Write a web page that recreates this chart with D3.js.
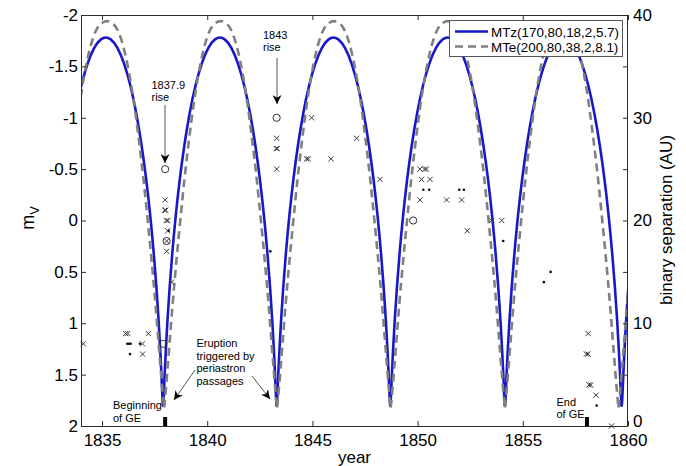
<!DOCTYPE html>
<html><head><meta charset="utf-8">
<script src="https://cdn.jsdelivr.net/npm/d3@7"></script>
<style>
body{margin:0;background:#fff;}
svg{display:block;font-family:"Liberation Sans",Arial,sans-serif;}
</style></head><body>
<svg id="chart" width="686" height="466"></svg>
<script>
// ---------------- data ----------------
const yearTicks = [1835, 1840, 1845, 1850, 1855, 1860];
const magTicks = [-2, -1.5, -1, -0.5, 0, 0.5, 1, 1.5, 2];
const auTicks = [0, 5, 10, 15, 20, 25, 30, 35, 40];
const auLabels = [0, 10, 20, 30, 40];

// periastron (minimum separation) epochs
const blueMinima = [1837.9, 1843.3, 1848.7, 1854.15, 1859.7];
const grayMinima = [1837.95, 1843.32, 1848.72, 1854.15, 1859.55];
const edgeHalfYears = 2.72;
// one half-arch (periastron -> apastron): fraction of half-arch, separation (AU)
const blueArchFrac = [0, 0.0067, 0.0158, 0.0292, 0.0492, 0.0772, 0.115, 0.1634, 0.223, 0.294, 0.376, 0.4686, 0.5704, 0.680, 0.7954, 0.9146, 1];
const blueArchAU   = [1.99, 2.35, 3.40, 5.11, 7.42, 10.22, 13.41, 16.86, 20.42, 23.97, 27.35, 30.44, 33.11, 35.25, 36.78, 37.63, 37.81];
const grayArchFrac = [0, 0.01, 0.03, 0.06, 0.10, 0.15, 0.22, 0.29, 0.36, 0.44, 0.52, 0.60, 0.68, 0.76, 0.84, 0.92, 1];
const grayArchAU   = [1.8, 2.3, 3.5, 5.5, 8.3, 11.8, 16.2, 20.2, 24.0, 27.8, 31.2, 34.0, 36.2, 37.8, 38.8, 39.25, 39.4];

const crossYears = [1834.11, 1836.12, 1836.22, 1837.2, 1836.92, 1836.93, 1838.0, 1837.98, 1838.03, 1838.05, 1838.13, 1838.12, 1838.07, 1838.07, 1838.31, 1843.3, 1843.28, 1843.33, 1843.3, 1844.96, 1847.1, 1844.72, 1844.8, 1845.88, 1848.21, 1850.11, 1850.33, 1850.42, 1850.19, 1850.59, 1850.11, 1851.38, 1852.09, 1852.36, 1853.52, 1854.0, 1858.11, 1858.02, 1858.1, 1858.15, 1858.23, 1858.48, 1859.22];
const crossMags  = [1.2, 1.1, 1.1, 1.1, 1.2, 1.3, -0.2, -0.1, -0.1, 0.0, 0.0, 0.1, 0.2, 0.3, 0.6, -0.8, -0.7, -0.7, -0.5, -1.0, -0.8, -0.6, -0.6, -0.6, -0.4, -0.5, -0.5, -0.5, -0.4, -0.4, -0.2, -0.2, -0.2, 0.1, 0.0, 0.0, 1.1, 1.3, 1.3, 1.6, 1.6, 1.7, 2.0];
const dotYears = [1836.2, 1836.28, 1836.36, 1836.8, 1836.33, 1838.17, 1843.0, 1850.27, 1850.55, 1851.98, 1852.2, 1854.07, 1856.0, 1856.32, 1858.51];
const dotMags  = [1.2, 1.2, 1.2, 1.2, 1.3, 0.1, 0.3, -0.3, -0.3, -0.3, -0.3, 0.2, 0.6, 0.5, 1.8];
const circleYears = [1838.0, 1843.3, 1849.79, 1837.91, 1838.07];
const circleMags  = [-0.5, -1.0, 0.0, 1.2, 0.2];

const geYears = [1838.0, 1858.05];
const legendLabels = ["MTz(170,80,18,2,5.7)", "MTe(200,80,38,2,8.1)"];

// ---------------- layout ----------------
const L = 81, R = 628, T = 15, B = 426;
const svg = d3.select("#chart");
const x = d3.scaleLinear().domain([1834, 1860]).range([L, R]);
const yMag = d3.scaleLinear().domain([-2, 2]).range([T, B]);
const yAU = d3.scaleLinear().domain([0, 40]).range([B, T]);
const axisColor = "#2b2b2b";
const blue = "#1818c8", gray = "#808080";

svg.append("defs").append("clipPath").attr("id", "clip")
  .append("rect").attr("x", L).attr("y", T).attr("width", R - L).attr("height", B - T);

function buildArches(minima, frac, au) {
  const bounds = [[minima[0] - 2 * edgeHalfYears, minima[0]]];
  for (let i = 0; i < minima.length - 1; i++) bounds.push([minima[i], minima[i + 1]]);
  bounds.push([minima[minima.length - 1], minima[minima.length - 1] + 2 * edgeHalfYears]);
  return bounds.map(([a, b]) => {
    const half = (b - a) / 2;
    const pts = frac.map((f, i) => [a + f * half, au[i]]);
    for (let i = frac.length - 2; i >= 0; i--) pts.push([b - frac[i] * half, au[i]]);
    return pts;
  });
}
const line = d3.line().x(d => x(d[0])).y(d => yAU(d[1])).curve(d3.curveMonotoneX);

const curves = svg.append("g").attr("clip-path", "url(#clip)");
curves.selectAll("path.blue").data(buildArches(blueMinima, blueArchFrac, blueArchAU)).enter()
  .append("path").attr("class", "blue").attr("d", line)
  .attr("fill", "none").attr("stroke", blue).attr("stroke-width", 2.6).attr("stroke-linecap", "round");
curves.selectAll("path.gray").data(buildArches(grayMinima, grayArchFrac, grayArchAU)).enter()
  .append("path").attr("class", "gray").attr("d", line)
  .attr("fill", "none").attr("stroke", gray).attr("stroke-width", 2.6).attr("stroke-dasharray", "8,5");

// ---------------- markers ----------------
const mk = svg.append("g");
const s = 2.6;
mk.selectAll("path.cross").data(crossYears.map((yr, i) => [yr, crossMags[i]])).enter()
  .append("path").attr("class", "cross")
  .attr("d", d => { const cx = x(d[0]), cy = yMag(d[1]);
    return `M${cx - s},${cy - s}L${cx + s},${cy + s}M${cx - s},${cy + s}L${cx + s},${cy - s}`; })
  .attr("stroke", "#3a3a3a").attr("stroke-width", 1).attr("fill", "none");
mk.selectAll("circle.dot").data(dotYears.map((yr, i) => [yr, dotMags[i]])).enter()
  .append("circle").attr("class", "dot")
  .attr("cx", d => x(d[0])).attr("cy", d => yMag(d[1])).attr("r", 1.3).attr("fill", "#111");
mk.selectAll("circle.ring").data(circleYears.map((yr, i) => [yr, circleMags[i]])).enter()
  .append("circle").attr("class", "ring")
  .attr("cx", d => x(d[0])).attr("cy", d => yMag(d[1])).attr("r", 3.6)
  .attr("fill", "none").attr("stroke", "#333").attr("stroke-width", 1);

// GE bars
svg.selectAll("rect.ge").data(geYears).enter().append("rect").attr("class", "ge")
  .attr("x", d => x(d) - 2).attr("y", B - 9).attr("width", 4).attr("height", 9).attr("fill", "#000");

// ---------------- axes ----------------
const fontAxis = "17px";
const gx = svg.append("g").attr("transform", `translate(0,${B})`)
  .call(d3.axisBottom(x).tickValues(yearTicks).tickFormat(d3.format("d")).tickSizeInner(-5).tickSizeOuter(0).tickPadding(8));
const gxt = svg.append("g").attr("transform", `translate(0,${T})`)
  .call(d3.axisTop(x).tickValues(yearTicks).tickFormat("").tickSizeInner(-5).tickSizeOuter(0));
const gy = svg.append("g").attr("transform", `translate(${L},0)`)
  .call(d3.axisLeft(yMag).tickValues(magTicks).tickFormat(d => String(d)).tickSizeInner(-5).tickSizeOuter(0).tickPadding(3));
const gr = svg.append("g").attr("transform", `translate(${R},0)`)
  .call(d3.axisRight(yAU).tickValues(auTicks).tickFormat(d => auLabels.includes(d) ? String(d) : "").tickSizeInner(-5).tickSizeOuter(0).tickPadding(5));
[gx, gxt, gy, gr].forEach(g => {
  g.select(".domain").remove();
  g.selectAll(".tick line").attr("stroke", axisColor);
  g.selectAll(".tick text").attr("fill", "#000").style("font-size", fontAxis)
    .style("font-family", '"Liberation Sans",Arial,sans-serif');
});
// keep the right-axis "0" clear of the "1860" label below it
gr.selectAll(".tick text").filter(d => d === 0).attr("dy", "0.02em");
svg.append("rect").attr("x", L + 0.5).attr("y", T + 0.5).attr("width", R - L - 1).attr("height", B - T)
  .attr("fill", "none").attr("stroke", axisColor).attr("stroke-width", 1);

// axis titles
svg.append("text").attr("x", (L + R) / 2).attr("y", 463).attr("text-anchor", "middle")
  .style("font-size", "17px").text("year");
const mv = svg.append("text").attr("transform", "translate(34,218) rotate(-90)").attr("text-anchor", "middle")
  .style("font-size", "18px");
mv.append("tspan").text("m");
mv.append("tspan").attr("dy", 5).style("font-size", "13px").text("V");
svg.append("text").attr("transform", "translate(672,220) rotate(-90)").attr("text-anchor", "middle")
  .style("font-size", "17px").text("binary separation (AU)");

// ---------------- legend ----------------
const lg = svg.append("g");
lg.append("rect").attr("x", 449.5).attr("y", 20.5).attr("width", 173).attr("height", 36)
  .attr("fill", "#fff").attr("stroke", "#555").attr("stroke-width", 1);
lg.append("line").attr("x1", 455).attr("x2", 488).attr("y1", 31.5).attr("y2", 31.5)
  .attr("stroke", blue).attr("stroke-width", 2.6);
lg.append("line").attr("x1", 455).attr("x2", 488).attr("y1", 46.5).attr("y2", 46.5)
  .attr("stroke", gray).attr("stroke-width", 2.6).attr("stroke-dasharray", "8,5");
lg.selectAll("text").data(legendLabels).enter().append("text")
  .attr("x", 491).attr("y", (d, i) => 36.5 + i * 15).style("font-size", "13.4px").text(d => d);

// ---------------- annotations ----------------
svg.append("defs").append("marker").attr("id", "ah").attr("viewBox", "0 0 10 10")
  .attr("refX", 10).attr("refY", 5).attr("markerWidth", 9).attr("markerHeight", 9)
  .attr("markerUnits", "userSpaceOnUse").attr("orient", "auto")
  .append("path").attr("d", "M0,0L10,5L0,10L3,5Z").attr("fill", "#000");
const ann = svg.append("g").style("font-size", "11px");
function multiText(lines, x0, y0, lh) {
  const t = ann.append("text").attr("x", x0).attr("y", y0);
  lines.forEach((l, i) => t.append("tspan").attr("x", x0).attr("dy", i ? lh : 0).text(l));
}
multiText(["1837.9", "rise"], 151.5, 88.5, 12);
ann.append("line").attr("x1", 165).attr("y1", 105).attr("x2", 165).attr("y2", 163)
  .attr("stroke", "#555").attr("stroke-width", 1).attr("marker-end", "url(#ah)");
multiText(["1843", "rise"], 263, 39, 12);
ann.append("line").attr("x1", 277).attr("y1", 58).attr("x2", 277).attr("y2", 104)
  .attr("stroke", "#555").attr("stroke-width", 1).attr("marker-end", "url(#ah)");
multiText(["Eruption", "triggered by", "periastron", "passages"], 196.5, 347, 12.5);
ann.append("line").attr("x1", 195).attr("y1", 370).attr("x2", 174).attr("y2", 400)
  .attr("stroke", "#555").attr("stroke-width", 1).attr("marker-end", "url(#ah)");
ann.append("line").attr("x1", 252).attr("y1", 376).attr("x2", 270).attr("y2", 399)
  .attr("stroke", "#555").attr("stroke-width", 1).attr("marker-end", "url(#ah)");
multiText(["Beginning", "of GE"], 113, 409, 13);
multiText(["End", "of GE"], 556.5, 405.5, 12);
</script>
</body></html>
